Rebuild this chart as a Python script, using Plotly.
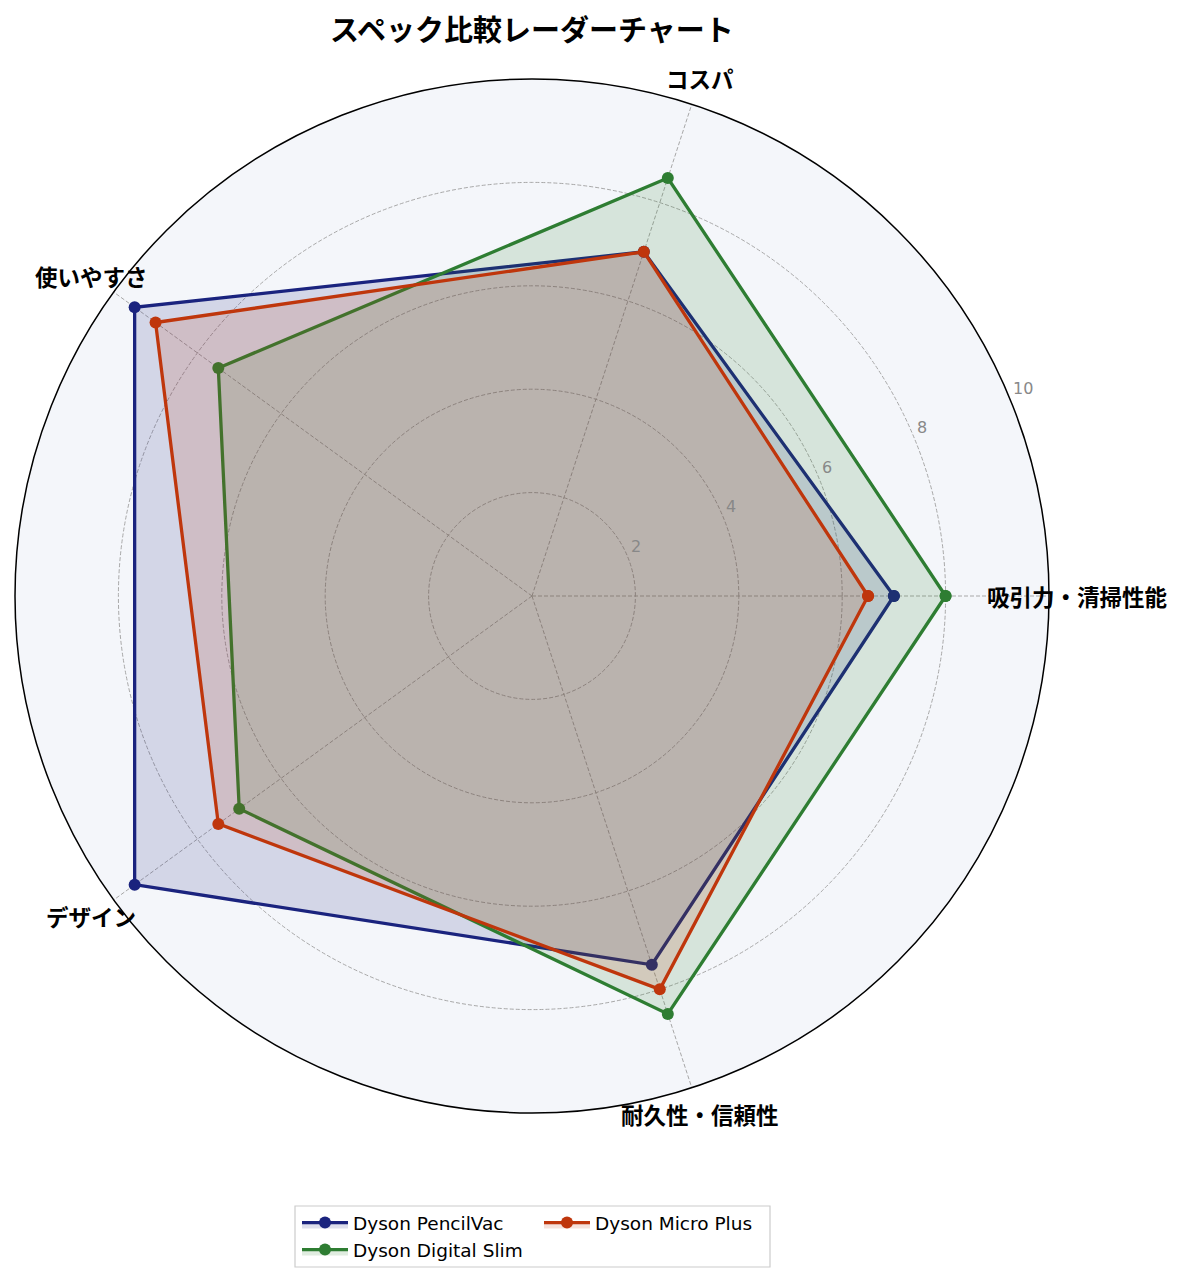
import math
import plotly.graph_objects as go

# Data
categories = ['吸引力・清掃性能', 'コスパ', '使いやすさ', 'デザイン', '耐久性・信頼性']
products = ['Dyson PencilVac', 'Dyson Digital Slim', 'Dyson Micro Plus']
pencilvac = [7.0, 7.0, 9.5, 9.5, 7.5]
digital_slim = [8.0, 8.5, 7.5, 7.0, 8.5]
micro_plus = [6.5, 7.0, 9.0, 7.5, 8.0]
radial_ticks = [2, 4, 6, 8, 10]

colors = ['#1A237E', '#2E7D32', '#BF360C']
fills = ['rgba(26,35,126,0.15)', 'rgba(46,125,50,0.15)', 'rgba(191,54,12,0.15)']
legends = ['legend', 'legend', 'legend2']

# page has an 8px body margin, so work in page pixels and shift
OFF = 8
W, H = 1185 - OFF, 1283 - OFF
cx, cy, R = 532, 596, 517
RMAX = 10
FONT = 'DejaVu Sans, Noto Sans CJK JP'
JP_FONT = 'Noto Sans CJK JP'


def px(x):
    return (x - OFF) / W


def py(y):
    return 1 - (y - OFF) / H


fig = go.Figure()
for name, vals, col, fc, lg in zip(products, [pencilvac, digital_slim, micro_plus], colors, fills, legends):
    fig.add_trace(go.Scatterpolar(
        r=vals + vals[:1],
        theta=categories + categories[:1],
        mode='lines+markers',
        name=name,
        line=dict(color=col, width=3.3),
        marker=dict(color=col, size=12),
        fill='toself',
        fillcolor=fc,
        legend=lg,
    ))

annotations = []
# title
annotations.append(dict(
    text='<b>スペック比較レーダーチャート</b>', x=px(cx), y=py(28), xref='paper', yref='paper',
    showarrow=False, xanchor='center', yanchor='middle',
    font=dict(family=JP_FONT, size=29, color='black'),
))
# category labels just outside the circle
for i, cat in enumerate(categories):
    ang = math.radians(360 / len(categories) * i)
    annotations.append(dict(
        text=cat, x=px(cx + (R + 28) * math.cos(ang)), y=py(cy - (R + 28) * math.sin(ang)),
        xref='paper', yref='paper', showarrow=False, xanchor='center', yanchor='middle',
        font=dict(family=JP_FONT, size=22.5, color='black', weight='bold'),
    ))

# radial tick labels along 22.5 degrees
rl = math.radians(22.5)
for t in radial_ticks:
    d = R * t / RMAX
    annotations.append(dict(
        text=str(t), x=px(cx + d * math.cos(rl) + 1), y=py(cy - d * math.sin(rl) - 10),
        xref='paper', yref='paper', showarrow=False, xanchor='left', yanchor='middle',
        font=dict(family=FONT, size=16, color='#888888'),
    ))

fig.update_layout(
    width=W, height=H,
    margin=dict(l=0, r=0, t=0, b=0),
    paper_bgcolor='white',
    font=dict(family=FONT),
    polar=dict(
        domain=dict(x=[px(cx - R), px(cx + R)], y=[py(cy + R), py(cy - R)]),
        bgcolor='#F4F6FA',
        radialaxis=dict(range=[0, RMAX], tickvals=radial_ticks, angle=22.5, showticklabels=False,
                        showline=False, ticks='', gridcolor='#A8A8A8', griddash='4px,2px', gridwidth=0.8),
        angularaxis=dict(direction='counterclockwise', rotation=0, showticklabels=False, ticks='',
                         gridcolor='#A8A8A8', griddash='4px,2px', gridwidth=0.8,
                         linecolor='black', linewidth=1.5),
    ),
    annotations=annotations,
    legend=dict(x=px(297), y=py(1204), xanchor='left', yanchor='top',
                bgcolor='rgba(0,0,0,0)', font=dict(family=FONT, size=18.5, color='black'),
                tracegroupgap=0, itemwidth=46),
    legend2=dict(x=px(539), y=py(1204), xanchor='left', yanchor='top',
                 bgcolor='rgba(0,0,0,0)', font=dict(family=FONT, size=18.5, color='black'),
                 itemwidth=46),
    shapes=[dict(type='rect', xref='paper', yref='paper',
                 x0=px(295), x1=px(770), y0=py(1267), y1=py(1206),
                 line=dict(color='#CCCCCC', width=1.2), fillcolor='rgba(255,255,255,0.8)')],
)

fig.write_html('out.html')
